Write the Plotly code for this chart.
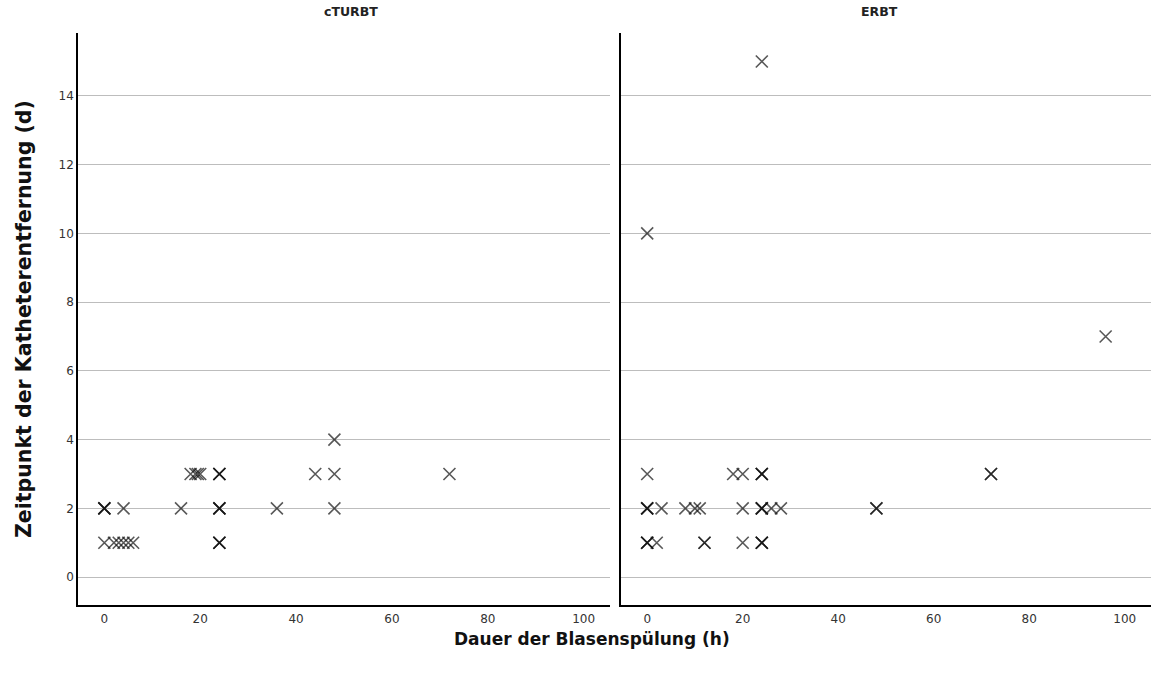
import plotly.graph_objects as go

# cTURBT: duration of bladder irrigation (h) vs. day of catheter removal (d)
cturbt_hours = [0, 2, 3, 4, 5, 6, 24, 24, 24,
                0, 0, 0, 4, 16, 24, 24, 24, 36, 48,
                18, 19, 19.5, 20, 24, 24, 24, 44, 48, 72,
                48]
cturbt_days = [1, 1, 1, 1, 1, 1, 1, 1, 1,
               2, 2, 2, 2, 2, 2, 2, 2, 2, 2,
               3, 3, 3, 3, 3, 3, 3, 3, 3, 3,
               4]

# ERBT
erbt_hours = [0, 0, 0, 2, 12, 12, 20, 24, 24, 24,
              0, 0, 0, 3, 8, 10, 11, 20, 24, 24, 24, 26, 28, 48, 48,
              0, 18, 20, 24, 24, 24, 72, 72,
              96, 0, 24]
erbt_days = [1, 1, 1, 1, 1, 1, 1, 1, 1, 1,
             2, 2, 2, 2, 2, 2, 2, 2, 2, 2, 2, 2, 2, 2, 2,
             3, 3, 3, 3, 3, 3, 3, 3,
             7, 10, 15]

panel_titles = ["cTURBT", "ERBT"]
x_title = "Dauer der Blasenspülung (h)"
y_title = "Zeitpunkt der Katheterentfernung (d)"
x_ticks = [0, 20, 40, 60, 80, 100]
y_ticks = [0, 2, 4, 6, 8, 10, 12, 14]

FONT = "DejaVu Sans"
marker = dict(symbol="x-thin-open", size=12, opacity=0.7,
              line=dict(width=1.6, color="#111111"), color="#111111")

fig = go.Figure()
fig.add_trace(go.Scatter(x=cturbt_hours, y=cturbt_days, mode="markers",
                         marker=marker, xaxis="x", yaxis="y", showlegend=False))
fig.add_trace(go.Scatter(x=erbt_hours, y=erbt_days, mode="markers",
                         marker=marker, xaxis="x2", yaxis="y2", showlegend=False))

xaxis_common = dict(range=[-5.5, 105.5], tickvals=x_ticks, showgrid=False,
                    zeroline=False, showline=True, linecolor="black", linewidth=1.5,
                    ticks="", ticklabelstandoff=2,
                    tickfont=dict(family=FONT, size=12, color="#333333"))
yaxis_common = dict(range=[-0.81, 15.83], tickvals=y_ticks, showgrid=True,
                    gridcolor="#bdbdbd", gridwidth=1, zeroline=False,
                    showline=True, linecolor="black", linewidth=1.5, ticks="",
                    tickfont=dict(family=FONT, size=12, color="#333333"))

fig.update_layout(
    width=1151, height=673,
    margin=dict(l=78, r=0, t=33, b=68),
    paper_bgcolor="white", plot_bgcolor="white",
    xaxis=dict(domain=[0, 0.4958], anchor="y", **xaxis_common),
    xaxis2=dict(domain=[0.506, 1], anchor="y2", **xaxis_common),
    yaxis=dict(domain=[0, 1], anchor="x", **yaxis_common),
    yaxis2=dict(domain=[0, 1], anchor="x2", showticklabels=False,
                **{k: v for k, v in yaxis_common.items() if k != "tickfont"}),
)

# panel titles
for x_pos, title in zip([0.2544, 0.7474], panel_titles):
    fig.add_annotation(x=x_pos, y=1, xref="paper", yref="paper",
                       xanchor="center", yanchor="bottom", yshift=12,
                       showarrow=False, text=title,
                       font=dict(family=FONT, size=12.5, color="#222222", weight="bold"))

# axis titles
fig.add_annotation(x=0.479, y=0, xref="paper", yref="paper",
                   xanchor="center", yanchor="middle", yshift=-34,
                   showarrow=False, text=x_title,
                   font=dict(family=FONT, size=17, color="#111111", weight="bold"))
fig.add_annotation(x=0, y=0.5, xref="paper", yref="paper", xanchor="center",
                   yanchor="middle", xshift=-54, showarrow=False, text=y_title,
                   textangle=-90,
                   font=dict(family=FONT, size=20.5, color="#111111", weight="bold"))

fig.write_html("out.html")
